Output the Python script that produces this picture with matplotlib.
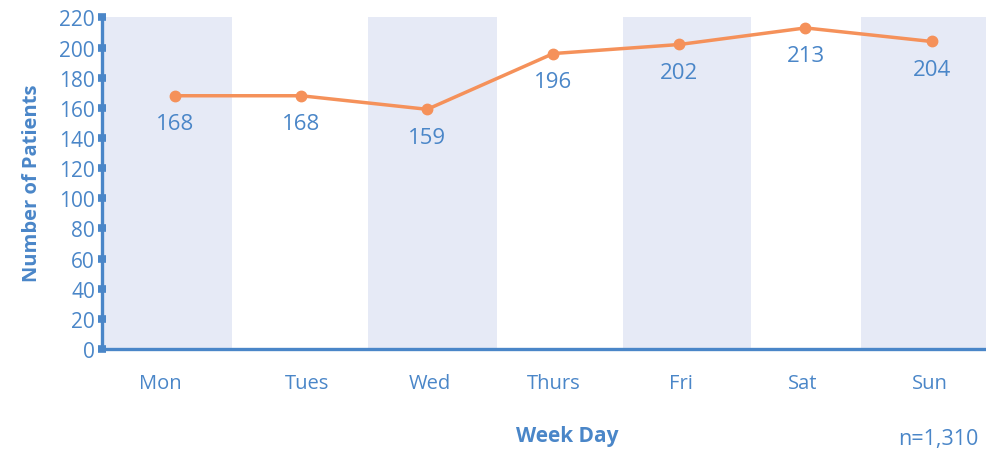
import numpy as np
import matplotlib.pyplot as plt

# data
days = ["Mon", "Tues", "Wed", "Thurs", "Fri", "Sat", "Sun"]
patients = [168, 168, 159, 196, 202, 213, 204]
y_ticks = list(range(0, 221, 20))
n_total = "n=1,310"
# shaded bands (Mon, Wed, Fri, Sun) in day-index units
band_left = [-0.58, 1.53, 3.55, 5.44]
band_right = [0.45, 2.55, 4.57, 6.44]
# category label positions (slightly off the points in the original)
label_pos = [-0.12, 1.05, 2.02, 3.0, 4.01, 4.98, 5.99]

BLUE = "#4a86c8"
ORANGE = "#f5915a"
BAND = "#e6eaf6"

plt.rcParams["font.family"] = ["Open Sans", "DejaVu Sans"]

fig = plt.figure(figsize=(9.87, 4.52), dpi=100)
ax = fig.add_axes([0.1033, 0.2257, 0.8967, 0.737])

x = np.arange(len(days))
ax.set_xlim(-0.58, 6.44)
ax.set_ylim(0, 221)

for l, r in zip(band_left, band_right):
    ax.axvspan(l, r, ymin=0, ymax=220 / 221, color=BAND, lw=0, zorder=0)

ax.plot(x, patients, color=ORANGE, lw=2.5, marker="o", ms=7.5, zorder=3)
for xi, v in zip(x, patients):
    ax.annotate(str(v), (xi, v), xytext=(0, -20), textcoords="offset points",
                ha="center", va="center", fontsize=16, color=BLUE)

ax.set_yticks(y_ticks)
ax.set_xticks(label_pos)
ax.set_xticklabels(days)
ax.tick_params(axis="y", direction="inout", length=6, width=5.5, color=BLUE,
               labelcolor=BLUE, labelsize=15, pad=2)
ax.tick_params(axis="x", length=0, labelcolor=BLUE, labelsize=14.5, pad=17)

for s in ["top", "right"]:
    ax.spines[s].set_visible(False)
for s in ["left", "bottom"]:
    ax.spines[s].set_color(BLUE)
    ax.spines[s].set_linewidth(2.4)
ax.spines["left"].set_bounds(0, 221)

ax.set_ylabel("Number of Patients", color=BLUE, fontsize=14.5, fontweight="bold", labelpad=12)
fig.text(0.575, 0.022, "Week Day", color=BLUE, fontsize=15, fontweight="bold", ha="center")
fig.text(0.951, 0.015, n_total, color=BLUE, fontsize=15.5, ha="center")

fig.savefig("out.png", dpi=100)
